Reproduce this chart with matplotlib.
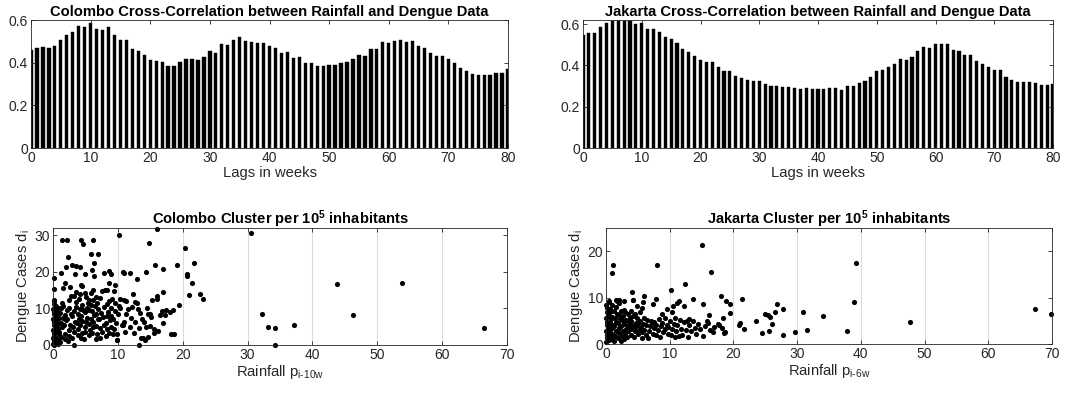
import matplotlib
matplotlib.use("Agg")
import matplotlib.pyplot as plt
import numpy as np

plt.rcParams['font.family'] = ['Liberation Sans', 'DejaVu Sans']
plt.rcParams['mathtext.fontset'] = 'custom'
plt.rcParams['mathtext.rm'] = 'Liberation Sans'
plt.rcParams['mathtext.it'] = 'Liberation Sans:italic'
plt.rcParams['mathtext.bf'] = 'Liberation Sans:bold'

# cross-correlation per lag (0..80 weeks)
lags = list(range(81))
colombo_xcorr = [0.460, 0.470, 0.472, 0.469, 0.480, 0.508, 0.530, 0.542, 0.570, 0.569,
                 0.587, 0.558, 0.552, 0.566, 0.531, 0.505, 0.505, 0.463, 0.455, 0.435,
                 0.411, 0.408, 0.405, 0.385, 0.385, 0.402, 0.418, 0.416, 0.411, 0.427,
                 0.455, 0.444, 0.488, 0.483, 0.506, 0.519, 0.502, 0.496, 0.491, 0.494,
                 0.477, 0.469, 0.447, 0.449, 0.421, 0.427, 0.400, 0.399, 0.385, 0.383,
                 0.390, 0.390, 0.400, 0.405, 0.416, 0.436, 0.432, 0.463, 0.463, 0.497,
                 0.492, 0.503, 0.506, 0.499, 0.502, 0.480, 0.467, 0.443, 0.433, 0.433,
                 0.416, 0.397, 0.377, 0.363, 0.348, 0.343, 0.344, 0.340, 0.352, 0.352,
                 0.372]
jakarta_xcorr = [0.547, 0.556, 0.558, 0.587, 0.605, 0.616, 0.619, 0.616, 0.616, 0.601,
                 0.605, 0.576, 0.576, 0.560, 0.539, 0.527, 0.508, 0.481, 0.465, 0.445,
                 0.426, 0.415, 0.415, 0.392, 0.371, 0.375, 0.350, 0.339, 0.328, 0.326,
                 0.323, 0.312, 0.302, 0.299, 0.297, 0.297, 0.293, 0.285, 0.293, 0.285,
                 0.285, 0.286, 0.289, 0.289, 0.283, 0.301, 0.301, 0.315, 0.325, 0.344,
                 0.375, 0.379, 0.391, 0.408, 0.431, 0.424, 0.441, 0.471, 0.487, 0.484,
                 0.502, 0.502, 0.506, 0.474, 0.468, 0.452, 0.450, 0.423, 0.408, 0.392,
                 0.376, 0.376, 0.346, 0.331, 0.322, 0.322, 0.322, 0.315, 0.305, 0.304,
                 0.310]

# (rainfall, dengue cases) pairs
colombo_pts = [
    (10.1, 30.1), (16.1, 31.8), (30.6, 30.7), (1.4, 28.6), (2.2, 28.6), (4.3, 28.8), (4.6, 27.7),
    (6.1, 28.7), (14.8, 27.8), (20.3, 26.6), (5.9, 24.8), (7.0, 25.0), (2.3, 24.2), (6.3, 22.3),
    (2.9, 22.0), (3.5, 21.5), (4.2, 21.3), (2.0, 21.3), (16.9, 20.8), (19.1, 22.0), (21.8, 22.3),
    (15.7, 21.8), (14.3, 20.1), (1.2, 19.7), (3.4, 19.5), (4.9, 19.3), (6.3, 19.0), (6.0, 20.6),
    (7.8, 19.7), (8.6, 20.2), (9.0, 19.5), (10.8, 19.9), (11.0, 19.8), (11.8, 19.6), (13.0, 18.1),
    (20.6, 19.0), (20.6, 19.5), (0.1, 18.3), (1.8, 17.0), (8.6, 17.0), (9.6, 16.3), (21.4, 16.9),
    (16.0, 13.5), (16.0, 12.5), (16.9, 14.4), (21.0, 13.7), (22.7, 14.0), (23.1, 12.6), (43.8, 16.8),
    (53.8, 16.9), (46.2, 8.3), (32.2, 8.4), (33.2, 5.0), (34.3, 4.7), (37.1, 5.4), (66.4, 4.7),
    (34.3, 0.1), (19.4, 10.9), (17.4, 9.5), (18.5, 9.5), (18.1, 9.0), (17.0, 6.0), (18.2, 2.9),
    (18.6, 2.9), (14.5, 10.1), (14.9, 8.5), (15.0, 5.2), (15.5, 3.4), (14.7, 2.3), (14.2, 1.4),
    (13.3, 0.1), (13.6, 2.0), (3.2, 0.0), (0.2, 0.1), (12.4, 13.9), (12.6, 11.7), (11.2, 11.9),
    (11.0, 12.2), (10.3, 10.2), (10.8, 5.4), (9.9, 1.5), (9.8, 3.0),
    (0.0, 0.2), (0.1, 1.0), (0.0, 1.8), (0.2, 2.5), (0.1, 3.3), (0.0, 4.1), (0.3, 4.8), (0.1, 5.6),
    (0.2, 6.3), (0.0, 7.0), (0.3, 7.7), (0.1, 8.4), (0.2, 9.1), (0.0, 9.8), (0.3, 10.5), (0.1, 11.2),
    (0.2, 11.9), (0.1, 12.4), (0.4, 0.6), (0.5, 2.0), (0.4, 3.6), (0.6, 5.0), (0.5, 6.6), (0.4, 8.0),
    (0.6, 9.4), (0.5, 10.8), (0.2, 15.2), (0.7, 0.3), (0.8, 1.5), (0.9, 3.0), (0.7, 4.4), (0.8, 6.0),
    (0.9, 7.4), (0.7, 8.8), (0.8, 10.2),
    (1.1, 0.9), (1.3, 2.2), (1.0, 3.5), (1.4, 4.8), (1.2, 6.1), (1.5, 7.4), (1.1, 8.7), (1.3, 10.0),
    (1.6, 10.8), (1.4, 11.5), (1.8, 1.6), (1.9, 3.0), (1.7, 5.4), (2.0, 6.8), (1.8, 8.2), (2.1, 9.6),
    (1.6, 15.6), (2.3, 1.1), (2.5, 2.4), (2.4, 4.0), (2.6, 5.6), (2.2, 7.2), (2.7, 8.5), (2.5, 10.1),
    (2.4, 12.4), (2.8, 13.3), (2.6, 15.9),
    (3.0, 2.0), (3.2, 3.5), (3.1, 5.0), (3.4, 6.4), (3.0, 7.8), (3.3, 9.2), (3.5, 10.3), (3.6, 11.8),
    (3.2, 13.5), (3.8, 2.7), (3.9, 4.4), (3.7, 5.9), (4.0, 7.2), (3.8, 8.6), (4.1, 9.9), (4.0, 12.6),
    (3.6, 14.5), (4.3, 1.9), (4.4, 3.2), (4.2, 5.5), (4.5, 6.6), (4.3, 8.0), (4.6, 9.5), (4.4, 11.0),
    (4.2, 14.0), (4.5, 16.2), (4.3, 16.5),
    (4.8, 1.6), (5.0, 3.6), (4.9, 5.0), (5.1, 6.2), (5.3, 7.5), (5.0, 8.9), (5.2, 10.2), (5.4, 11.4),
    (5.1, 13.0), (4.9, 14.1), (5.5, 2.6), (5.7, 4.2), (5.6, 5.7), (5.8, 7.0), (5.5, 9.7), (5.9, 11.0),
    (5.6, 12.2), (5.8, 14.2), (6.0, 3.4), (6.2, 4.9), (6.1, 6.3), (6.3, 8.3), (6.0, 9.3), (6.4, 10.6),
    (6.2, 12.3), (6.1, 15.0),
    (6.6, 1.7), (6.8, 3.1), (6.7, 5.2), (6.9, 7.0), (6.6, 8.5), (7.0, 9.9), (6.8, 11.6), (6.7, 13.2),
    (7.2, 1.9), (7.3, 4.6), (7.1, 7.2), (7.4, 8.7), (7.2, 12.8), (7.6, 3.5), (7.8, 5.4), (7.7, 7.6),
    (7.9, 10.3), (7.6, 14.9), (8.0, 15.1),
    (8.2, 2.5), (8.3, 4.3), (8.1, 6.1), (8.4, 7.8), (8.5, 9.1), (8.3, 11.3), (8.6, 12.0), (8.4, 15.0),
    (8.7, 3.3), (8.9, 5.0), (8.8, 6.8), (9.0, 8.0), (8.9, 10.0), (9.1, 12.5), (9.2, 2.9), (9.4, 4.4),
    (9.3, 7.0), (9.5, 9.3), (9.6, 11.5), (9.4, 14.9), (9.8, 1.5), (9.7, 5.9), (10.0, 8.6),
    (10.1, 10.6), (10.3, 12.7),
    (10.6, 5.4), (10.9, 6.3), (11.1, 3.6), (11.3, 8.6), (11.5, 9.8), (11.8, 5.0), (12.0, 7.5),
    (12.2, 10.3), (12.5, 3.2), (12.7, 6.3), (12.9, 11.4), (13.2, 4.6), (13.4, 8.8), (13.1, 9.9),
    (13.7, 7.1), (13.9, 1.9), (14.1, 6.4), (14.4, 4.9), (14.6, 8.4),
    (15.1, 7.6), (15.3, 12.2), (15.6, 4.3), (16.2, 3.7), (16.5, 8.2), (16.8, 9.2), (17.2, 8.2),
]

jakarta_pts = [
    (15.0, 21.3), (39.3, 17.4), (1.1, 17.0), (8.0, 17.0), (0.9, 15.4), (16.5, 15.5), (12.4, 13.0),
    (10.2, 11.6), (4.1, 11.1), (39.0, 9.1), (67.4, 7.5), (69.8, 6.4), (47.7, 4.8), (37.9, 2.9),
    (34.0, 6.0), (30.9, 6.9), (31.6, 3.1), (29.6, 2.5), (27.8, 2.0), (27.8, 7.5), (26.9, 8.6),
    (26.0, 4.3), (25.6, 2.8), (24.5, 2.4), (25.0, 6.5), (25.5, 6.3), (25.7, 5.9), (26.5, 7.0),
    (23.5, 5.0), (21.7, 3.2), (21.3, 9.7), (21.1, 4.5), (20.8, 4.2), (19.4, 8.7), (19.5, 6.7),
    (18.9, 9.2), (18.1, 10.3), (18.5, 2.3), (18.7, 2.5), (18.3, 5.7), (18.2, 3.5), (17.8, 4.0),
    (17.6, 4.3), (16.2, 6.2), (15.9, 5.0), (15.3, 8.6), (15.3, 1.8), (13.7, 9.6), (13.0, 5.4),
    (12.3, 8.2), (11.5, 9.2), (11.2, 8.9), (10.5, 8.1), (10.3, 7.0), (9.5, 7.6), (8.8, 6.5),
    (7.9, 9.8), (7.4, 8.6), (5.9, 10.3), (5.8, 9.0), (4.3, 9.5), (2.8, 9.2), (2.0, 9.4),
    (1.6, 9.5), (0.5, 9.3),
    (0.0, 0.5), (0.1, 1.2), (0.2, 2.0), (0.0, 2.7), (0.3, 3.4), (0.1, 4.1), (0.2, 4.8), (0.0, 5.5),
    (0.3, 6.2), (0.1, 7.0), (0.2, 7.7), (0.0, 8.4), (0.4, 9.0), (0.5, 0.8), (0.6, 1.6), (0.4, 2.4),
    (0.7, 3.1), (0.5, 3.8), (0.6, 4.6), (0.8, 5.3), (0.5, 6.0), (0.7, 6.8), (0.6, 7.6), (0.9, 8.4),
    (0.9, 1.0), (1.0, 2.2), (0.9, 3.4), (1.1, 4.2), (1.0, 5.8), (1.2, 7.1),
    (1.3, 0.7), (1.4, 1.8), (1.5, 2.9), (1.3, 3.9), (1.6, 4.8), (1.4, 5.6), (1.7, 6.5), (1.5, 8.0),
    (1.8, 9.2), (1.9, 1.3), (2.0, 2.4), (2.1, 3.5), (1.9, 4.5), (2.2, 5.3), (2.0, 6.2), (2.3, 7.1),
    (2.1, 8.8), (2.4, 0.6), (2.5, 1.7), (2.6, 2.8), (2.4, 3.9), (2.7, 4.9), (2.6, 6.0), (2.8, 7.4),
    (2.9, 1.1), (3.0, 2.2), (3.1, 3.3), (2.9, 4.3), (3.2, 5.1), (3.0, 6.8),
    (3.3, 1.5), (3.5, 2.7), (3.4, 3.8), (3.6, 4.7), (3.7, 5.7), (3.5, 6.4), (3.9, 2.0), (4.0, 3.2),
    (4.1, 4.1), (3.9, 5.0), (4.2, 6.0), (4.0, 7.2), (4.3, 9.5), (4.4, 1.6), (4.6, 2.7), (4.5, 3.6),
    (4.7, 4.5), (4.8, 5.5), (4.6, 6.4), (4.9, 8.1), (5.0, 2.2), (5.2, 3.1), (5.1, 4.0), (5.3, 5.0),
    (5.4, 6.9), (5.6, 1.4), (5.7, 2.5), (5.5, 3.5), (5.8, 4.4), (5.9, 5.6), (5.7, 7.8), (6.0, 3.0),
    (6.2, 1.9), (6.3, 4.1), (6.4, 5.2), (6.6, 1.2), (6.7, 2.8), (6.9, 3.9), (7.0, 5.0), (7.2, 4.5),
    (7.3, 2.2), (7.5, 3.5), (7.6, 4.8), (7.8, 2.0), (7.9, 4.2), (8.1, 3.0), (8.3, 5.3), (8.5, 1.5),
    (8.6, 3.8), (8.8, 4.6), (9.0, 2.6), (9.2, 3.3), (9.3, 5.5), (9.5, 4.1), (9.7, 2.1), (9.8, 3.6),
    (10.0, 4.9), (10.2, 1.9), (10.4, 3.2), (10.6, 4.4), (10.8, 1.5), (10.9, 5.7), (11.0, 2.8),
    (11.2, 4.0), (11.4, 1.7), (11.6, 5.2), (11.8, 3.3), (12.0, 2.0), (12.2, 4.7), (12.5, 3.1),
    (12.7, 5.0), (12.9, 1.6), (13.1, 4.1), (13.3, 2.8), (13.6, 4.9), (13.9, 3.5), (14.2, 2.2),
    (14.5, 4.4), (14.8, 3.3), (15.6, 3.9), (16.0, 4.6), (16.4, 3.0), (17.0, 3.7), (16.8, 2.5),
]

W, H = 1087, 399
fig = plt.figure(figsize=(W / 100, H / 100), dpi=100)


def px_axes(left, top, right, bottom):
    return fig.add_axes([left / W, 1 - bottom / H, (right - left) / W, (bottom - top) / H])


def matlab_style(ax):
    for s in ax.spines.values():
        s.set_color('#262626')
        s.set_linewidth(0.6)
    ax.tick_params(direction='in', top=True, right=True, length=3, width=0.6,
                   colors='#262626', labelsize=10, pad=2)


# top row: bar charts
for left, right, title, vals, ylim in [
        (31, 508, 'Colombo Cross-Correlation between Rainfall and Dengue Data', colombo_xcorr, 0.6),
        (583, 1053, 'Jakarta Cross-Correlation between Rainfall and Dengue Data', jakarta_xcorr, 0.62)]:
    ax = px_axes(left, 20, right, 148)
    ax.bar(lags, vals, width=0.55, color='black', edgecolor='black', linewidth=0.3)
    ax.set_xlim(0, 80)
    ax.set_ylim(0, ylim)
    ax.set_xticks(range(0, 81, 10))
    ax.set_yticks([0, 0.2, 0.4, 0.6])
    ax.set_yticklabels(['0', '0.2', '0.4', '0.6'])
    ax.set_xlabel('Lags in weeks', fontsize=10.6, color='#262626', labelpad=1)
    ax.set_title(title, fontsize=10.6, fontweight='bold', pad=3)
    matlab_style(ax)

# bottom row: scatter plots
for left, top, right, bottom, city, pts, ymax, yt, lag in [
        (53, 228, 507, 345, 'Colombo', colombo_pts, 32, [0, 10, 20, 30], '10'),
        (606, 228, 1052, 344, 'Jakarta', jakarta_pts, 25, [0, 10, 20], '6')]:
    ax = px_axes(left, top, right, bottom)
    xs, ys = zip(*pts)
    ax.plot(xs, ys, 'o', color='black', markersize=3.7, markeredgewidth=0, clip_on=False)
    ax.set_xlim(0, 70)
    ax.set_ylim(0, ymax)
    ax.set_xticks(range(0, 71, 10))
    ax.set_yticks(yt)
    ax.grid(axis='x', color='#dcdcdc', linewidth=0.8)
    ax.set_axisbelow(True)
    ax.set_title(city + r' Cluster per $\mathbf{10^5}$ inhabitants', fontsize=10.6, fontweight='bold', pad=3)
    ax.set_xlabel(r'Rainfall p$_{\mathrm{i}\text{-}\mathrm{' + lag + r'w}}$', fontsize=10.6,
                  color='#262626', labelpad=1)
    ax.set_ylabel(r'Dengue Cases d$_\mathrm{i}$', fontsize=10.6, color='#262626', labelpad=2)
    matlab_style(ax)

fig.savefig('out.png', dpi=100)
